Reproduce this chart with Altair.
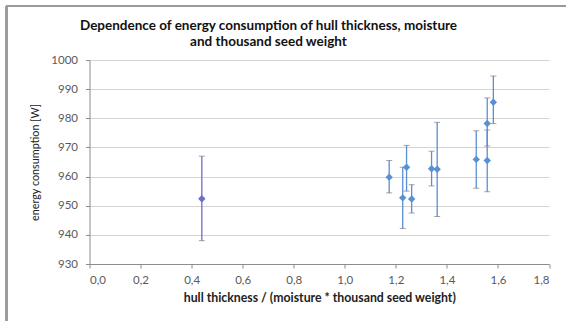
import altair as alt
import pandas as pd

# data
x_vals = [0.44, 1.174, 1.227, 1.242, 1.262, 1.340, 1.362, 1.515, 1.558, 1.558, 1.582]
y_vals = [952.4, 959.8, 952.7, 963.2, 952.3, 962.7, 962.5, 965.9, 965.5, 978.2, 985.5]
y_low = [938.0, 954.4, 942.2, 955.0, 947.5, 956.8, 946.3, 956.0, 954.8, 970.5, 978.2]
y_high = [967.0, 965.5, 963.2, 970.7, 957.2, 968.7, 978.6, 975.7, 976.0, 987.0, 994.5]
group = ["a", "b", "b", "b", "b", "b", "b", "b", "b", "b", "b"]
x_ticks = [0, 0.2, 0.4, 0.6, 0.8, 1.0, 1.2, 1.4, 1.6, 1.8]
y_ticks = [930, 940, 950, 960, 970, 980, 990, 1000]
title_lines = ["Dependence of energy consumption of hull thickness, moisture",
               "and thousand seed weight"]

df = pd.DataFrame({"x": x_vals, "y": y_vals, "lo": y_low, "hi": y_high, "g": group})

FONT = "Lato"
xscale = alt.Scale(domain=[0, 1.8], nice=False, zero=False)
yscale = alt.Scale(domain=[930, 1000], nice=False, zero=False)

xaxis = alt.Axis(
    values=x_ticks,
    labelExpr="replace(format(datum.value, '.1f'), '.', ',')",
    grid=False,
    labelOverlap=False,
    domainColor="#8c8c8c",
    tickColor="#8c8c8c",
    tickSize=4,
    labelPadding=6,
    labelColor="#595959",
    labelFont=FONT,
    labelFontSize=11.5,
    titleFont=FONT,
    titleFontSize=12.3,
    titleFontWeight="bold",
    titleColor="#222222",
    titlePadding=6,
)
yaxis = alt.Axis(
    values=y_ticks,
    format="d",
    grid=True,
    labelOverlap=False,
    gridColor="#d4d4d4",
    domainColor="#8c8c8c",
    tickColor="#8c8c8c",
    tickSize=4,
    labelPadding=8,
    labelColor="#595959",
    labelFont=FONT,
    labelFontSize=11.5,
    titleFont=FONT,
    titleFontSize=10.8,
    titleFontWeight="normal",
    titleColor="#222222",
    titlePadding=10,
)
XT = "hull thickness / (moisture * thousand seed weight)"
YT = "energy consumption [W]"

color_bar = alt.Color("g:N", scale=alt.Scale(domain=["a", "b"], range=["#6f6fc4", "#5a8fd2"]), legend=None)
color_pt = alt.Color("g:N", scale=alt.Scale(domain=["a", "b"], range=["#555555", "#3f73b8"]), legend=None)

base = alt.Chart(df)
bars = base.mark_rule(strokeWidth=1.3).encode(
    x=alt.X("x:Q", scale=xscale, axis=xaxis, title=XT),
    y=alt.Y("lo:Q", scale=yscale, axis=yaxis, title=YT),
    y2="hi:Q",
    color=color_bar,
)
cap_lo = base.mark_tick(orient="horizontal", size=6, thickness=1, color="#7a7a8a").encode(
    x=alt.X("x:Q", scale=xscale, axis=xaxis, title=XT),
    y=alt.Y("lo:Q", scale=yscale, axis=yaxis, title=YT),
)
cap_hi = base.mark_tick(orient="horizontal", size=6, thickness=1, color="#7a7a8a").encode(
    x=alt.X("x:Q", scale=xscale, axis=xaxis, title=XT),
    y=alt.Y("hi:Q", scale=yscale, axis=yaxis, title=YT),
)
points = base.mark_point(shape="diamond", filled=True, size=55, opacity=1).encode(
    x=alt.X("x:Q", scale=xscale, axis=xaxis, title=XT),
    y=alt.Y("y:Q", scale=yscale, axis=yaxis, title=YT),
    color=color_pt,
)

frame_left = base.mark_rule(color="#9a9a9a", strokeWidth=1.5).encode(
    x=alt.value(-83), y=alt.value(-54), y2=alt.value(262)
)
frame_top = base.mark_rule(color="#9a9a9a", strokeWidth=1.5).encode(
    x=alt.value(-83), x2=alt.value(477), y=alt.value(-54)
)
title = alt.Chart(pd.DataFrame({"t": [0]})).mark_text(
    text=title_lines,
    font=FONT,
    fontSize=13.5,
    fontWeight="bold",
    color="#111111",
    align="center",
    baseline="top",
    lineHeight=15.5,
).encode(x=alt.value(179), y=alt.value(-41))

chart = (
    alt.layer(frame_left, frame_top, bars, cap_lo, cap_hi, points, title)
    .properties(
        width=459.5,
        height=204,
        autosize=alt.AutoSizeParams(type="none"),
        padding={"left": 89.5, "top": 60, "right": 17, "bottom": 57},
        background="white",
    )
    .configure_view(stroke=None)
)

chart.save("out.html", embed_options={"renderer": "svg", "actions": False})
